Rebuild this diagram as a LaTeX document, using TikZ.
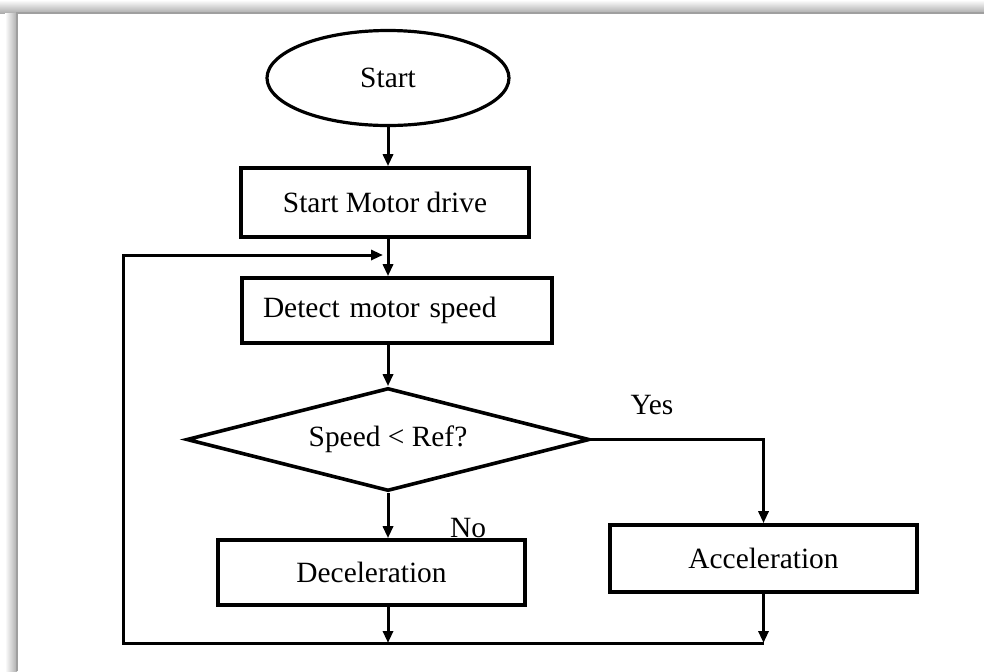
\documentclass[tikz,border=0pt]{standalone}
\usepackage{fontspec}
\setmainfont{Liberation Serif}
\usepackage{tikz}
\usetikzlibrary{shapes.geometric}
\usetikzlibrary{arrows.meta}
\tikzstyle{mybox} = [draw=black, fill=white, line width=1.8pt,
rectangle, inner sep=0pt, font=\fontsize{14.7}{17}\selectfont]
\tikzstyle{myoval} = [draw=black, fill=white, line width=1.6pt, ellipse,
inner sep=0pt, minimum width=121pt, minimum height=47.5pt, font=\fontsize{14.7}{17}\selectfont]
\tikzstyle{mydiamond} = [draw=black, fill=white, line width=1.8pt, diamond, aspect=3.9,
inner sep=0pt, minimum width=201.5pt, minimum height=51.5pt, font=\fontsize{14.7}{17}\selectfont]
\tikzstyle{mylabel} = [inner sep=0pt, font=\fontsize{14.7}{17}\selectfont]
\tikzstyle{myline} = [line width=1.5pt]
\tikzstyle{myarrow} = [myline, -{Triangle[length=6pt,width=5pt]}]

\begin{document}
\begin{tikzpicture}[x=0.5pt,y=-0.5pt]
        \useasboundingbox (0,0) rectangle (984,671);
        % grey frame along top and left
        \shade[top color=white, bottom color=gray!65] (0,0) rectangle (984,13);
        \shade[left color=white, right color=gray!65] (5,13) rectangle (17,671);
        \draw[gray!75, line width=0.6pt] (17,671) -- (17,13) -- (984,13);

        \node[myoval] (start) at (388,78) {Start};
        \node[mybox, minimum width=144pt, minimum height=34.5pt] (motor) at (385,202.5) {Start Motor drive};
        \node[mybox, minimum height=32.5pt, text width=134pt, align=left, inner xsep=10.5pt] (detect) at (397,310.5) {Detect motor speed};
        \node[mydiamond] (decide) at (388,439.5) {Speed < Ref?};
        \node[mybox, minimum width=153.5pt, minimum height=32.5pt] (decel) at (371.5,572.5) {Deceleration};
        \node[mybox, minimum width=153.5pt, minimum height=33.5pt] (accel) at (763.5,558.5) {Acceleration};
        \node[mylabel] (yes) at (652,405) {Yes};
        \node[mylabel] (no) at (468,528) {No};

        \coordinate (loopend) at (123,643);
        \coordinate (loopin) at (383,255);

        \draw[myarrow] (start.south) -- (start.south |- motor.north);
        \draw[myarrow] (start.south |- motor.south) -- (start.south |- detect.north);
        \draw[myarrow] (start.south |- detect.south) -- (decide.north);
        \draw[myarrow] (decide.east) -| (accel.north);
        \draw[myarrow] (decide.south) -- (decide.south |- decel.north);
        \draw[myarrow] (decide.south |- decel.south) -- (decide.south |- loopend);
        \draw[myarrow] (accel.south) -- (accel.south |- loopend);
        \draw[myarrow] (accel.south |- loopend) -- (loopend) |- (loopin);
    \end{tikzpicture}
\end{document}
